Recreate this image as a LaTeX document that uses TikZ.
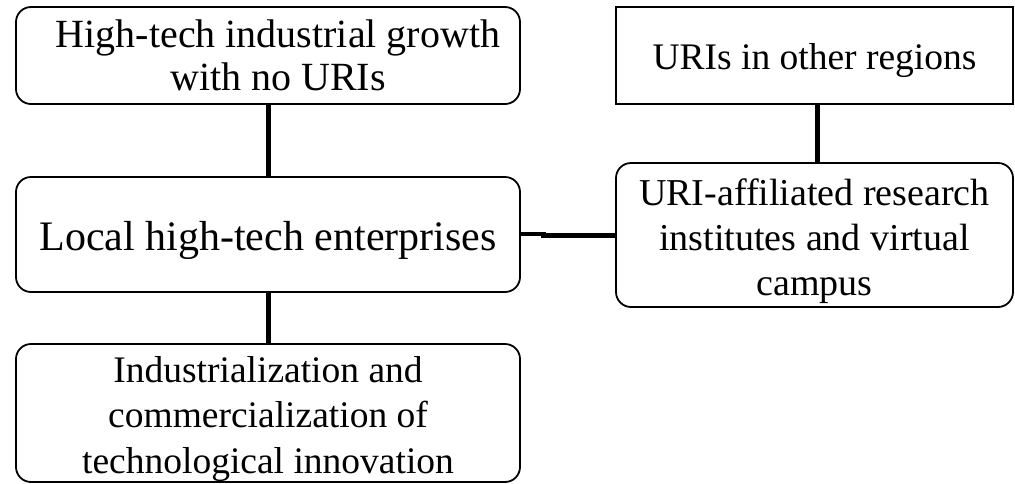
\documentclass[tikz,border=0pt]{standalone}
\usepackage{fontspec}
\setmainfont{Liberation Serif}
\begin{document}
\begin{tikzpicture}[x=1pt,y=1pt,
  box/.style={draw=black, line width=1.8pt, rounded corners=15pt, inner sep=0pt},
  sbox/.style={box, rounded corners=0pt},
  txt/.style={align=center, inner sep=0pt},
  conn/.style={draw=black, line width=5pt}]
\useasboundingbox (0,0) rectangle (1015,-483);
\node[box, minimum width=504pt, minimum height=97pt,
  label={[txt, xshift=10pt, font=\fontsize{40}{43}\selectfont]center:{High-tech industrial growth\\with no URIs}}]
  (A) at (268,-55.5) {};
\node[sbox, minimum width=397pt, minimum height=97pt,
  label={[txt, yshift=-5.5pt, font=\fontsize{37.5}{45}\selectfont]center:{URIs in other regions}}]
  (B) at (814.5,-55.5) {};
\node[box, minimum width=504pt, minimum height=115pt,
  label={[txt, yshift=-6pt, font=\fontsize{42}{45}\selectfont]center:{Local high-tech enterprises}}]
  (C) at (268,-234.5) {};
\node[box, minimum width=397pt, minimum height=144pt,
  label={[txt, yshift=-6pt, font=\fontsize{38}{45}\selectfont]center:{URI-affiliated research\\institutes and virtual\\campus}}]
  (D) at (814.5,-235) {};
\node[box, minimum width=504pt, minimum height=138pt,
  label={[txt, yshift=-6pt, font=\fontsize{37.5}{45.5}\selectfont]center:{Industrialization and\\commercialization of\\technological innovation}}]
  (E) at (268,-413) {};
\draw[conn] (A.south) -- (C.north);
\draw[conn] (C.south) -- (E.north);
\draw[conn] (B.south -| 817,0) -- (D.north -| 817,0);
\coordinate (j1) at (546,-234);
\coordinate (j2) at (541,-235.7);
\draw[conn, line width=4.5pt] (C.east |- j1) -- (j1);
\draw[conn, line width=5.5pt] (j2) -- (D.west |- j2);
\end{tikzpicture}
\end{document}
